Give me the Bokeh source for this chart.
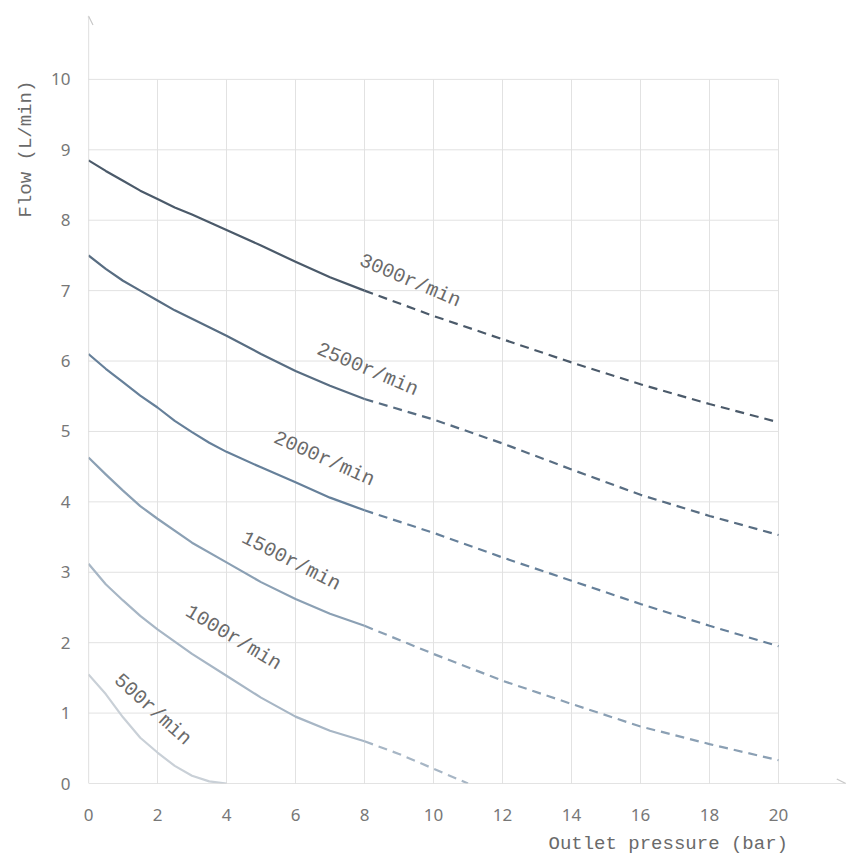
import math
from bokeh.plotting import figure
from bokeh.models import Range1d, Arrow, OpenHead, FixedTicker, ColumnDataSource, Title
from bokeh.core.properties import value
from bokeh.embed import file_html
from bokeh.resources import INLINE

# ---------------- data ----------------
speed_labels = ["500r/min", "1000r/min", "1500r/min", "2000r/min", "2500r/min", "3000r/min"]

# measured (solid) part of each curve
x_500 = [0, 0.5, 1, 1.5, 2, 2.5, 3, 3.5, 4]
y_500 = [1.55, 1.27, 0.94, 0.65, 0.44, 0.25, 0.11, 0.03, 0.0]
x_mid = [0, 0.5, 1, 1.5, 2, 3, 4, 5, 6, 7, 8]
y_1000 = [3.12, 2.83, 2.60, 2.38, 2.19, 1.84, 1.53, 1.22, 0.95, 0.75, 0.60]
y_1500 = [4.63, 4.39, 4.16, 3.94, 3.76, 3.42, 3.14, 2.86, 2.62, 2.41, 2.24]
x_fine = [0, 0.5, 1, 1.5, 2, 2.5, 3, 3.5, 4, 5, 6, 7, 8]
y_2000 = [6.10, 5.89, 5.70, 5.51, 5.34, 5.15, 4.99, 4.84, 4.71, 4.49, 4.28, 4.06, 3.88]
y_2500 = [7.50, 7.31, 7.14, 7.00, 6.86, 6.72, 6.60, 6.48, 6.36, 6.10, 5.86, 5.65, 5.46]
y_3000 = [8.85, 8.70, 8.56, 8.42, 8.30, 8.18, 8.08, 7.97, 7.86, 7.64, 7.41, 7.19, 7.00]

# extrapolated (dashed) part
x_1000_dash = [8, 9, 10, 11]
y_1000_dash = [0.60, 0.42, 0.21, 0.0]
x_dash = [8, 10, 12, 14, 16, 18, 20]
y_1500_dash = [2.24, 1.84, 1.46, 1.13, 0.81, 0.56, 0.33]
y_2000_dash = [3.88, 3.56, 3.21, 2.88, 2.55, 2.24, 1.95]
y_2500_dash = [5.46, 5.17, 4.83, 4.46, 4.10, 3.80, 3.53]
y_3000_dash = [7.00, 6.64, 6.31, 5.98, 5.67, 5.39, 5.13]

x_ticks = [0, 2, 4, 6, 8, 10, 12, 14, 16, 18, 20]
y_ticks = [0, 1, 2, 3, 4, 5, 6, 7, 8, 9, 10]

# ---------------- styles / layout ----------------
colors = ["#c9d0d7", "#a7b6c5", "#8ba0b4", "#66809a", "#586d82", "#4b5a6a"]
label_pos_x = [1.86, 4.2, 5.87, 6.83, 8.09, 9.32]
label_pos_y = [1.05, 2.07, 3.16, 4.61, 5.88, 7.14]
label_angle_deg = [-42, -31, -27, -24, -23, -23]

GRID = "#e2e2e2"
AXIS = "#c8c8c8"
TEXT = "#6a6a6a"
TICK = "#777777"
MONO = "Liberation Mono"

p = figure(width=850, height=862, output_backend="svg", toolbar_location=None,
           x_range=Range1d(0, 22), y_range=Range1d(0, 10.95),
           min_border_left=88, min_border_right=3, min_border_top=12, min_border_bottom=79)
p.outline_line_color = None
p.xgrid.visible = False
p.ygrid.visible = False

# grid lines (limited to 0..20 horizontally)
p.segment(x0=x_ticks[1:], y0=[0] * (len(x_ticks) - 1), x1=x_ticks[1:], y1=[y_ticks[-1]] * (len(x_ticks) - 1),
          line_color=GRID, line_width=1)
p.segment(x0=[0] * (len(y_ticks) - 1), y0=y_ticks[1:], x1=[x_ticks[-1]] * (len(y_ticks) - 1), y1=y_ticks[1:],
          line_color=GRID, line_width=1)

# axes
for ax in (p.xaxis[0], p.yaxis[0]):
    ax.axis_line_color = None
    ax.major_tick_line_color = None
    ax.minor_tick_line_color = None
    ax.major_label_text_color = TICK
    ax.major_label_text_font = "Noto Sans"
    ax.major_label_text_font_size = "17px"
p.xaxis.ticker = FixedTicker(ticks=x_ticks)
p.yaxis.ticker = FixedTicker(ticks=y_ticks)
p.xaxis.major_label_standoff = 19
p.yaxis.major_label_standoff = 12

# axis titles (offset along the frame edge)
p.add_layout(Title(text="Outlet pressure (bar)", align="left", offset=460, standoff=14,
                   text_font=MONO, text_font_size="19px", text_font_style="normal",
                   text_line_height=1.0, text_color=TEXT), "below")
p.add_layout(Title(text="Flow (L/min)", align="left", offset=566, standoff=23,
                   text_font=MONO, text_font_size="19px", text_font_style="normal",
                   text_line_height=1.0, text_color=TEXT), "left")

p.add_layout(Arrow(end=OpenHead(size=9, line_color=AXIS, line_width=1.2),
                   x_start=0, y_start=0, x_end=0, y_end=10.9, line_color=AXIS, line_width=1.2))
p.add_layout(Arrow(end=OpenHead(size=9, line_color=AXIS, line_width=1.2),
                   x_start=0, y_start=0, x_end=21.95, y_end=0, line_color=AXIS, line_width=1.2))

# curves
solid = [(x_500, y_500), (x_mid, y_1000), (x_mid, y_1500), (x_fine, y_2000), (x_fine, y_2500), (x_fine, y_3000)]
dashed = [None, (x_1000_dash, y_1000_dash), (x_dash, y_1500_dash), (x_dash, y_2000_dash),
          (x_dash, y_2500_dash), (x_dash, y_3000_dash)]
for i, (xs, ys) in enumerate(solid):
    p.line(xs, ys, line_color=colors[i], line_width=2.2, line_join="round")
    if dashed[i] is not None:
        xd, yd = dashed[i]
        p.line(xd, yd, line_color=colors[i], line_width=2.2, line_dash="9 6")

src = ColumnDataSource(dict(x=label_pos_x, y=label_pos_y, t=speed_labels,
                            a=[math.radians(a) for a in label_angle_deg]))
p.text(x="x", y="y", text="t", angle="a", source=src, text_font=value(MONO),
       text_font_size="20px", text_color=TEXT, text_align="center", text_baseline="middle")

open("out.html", "w").write(file_html(p, INLINE))
